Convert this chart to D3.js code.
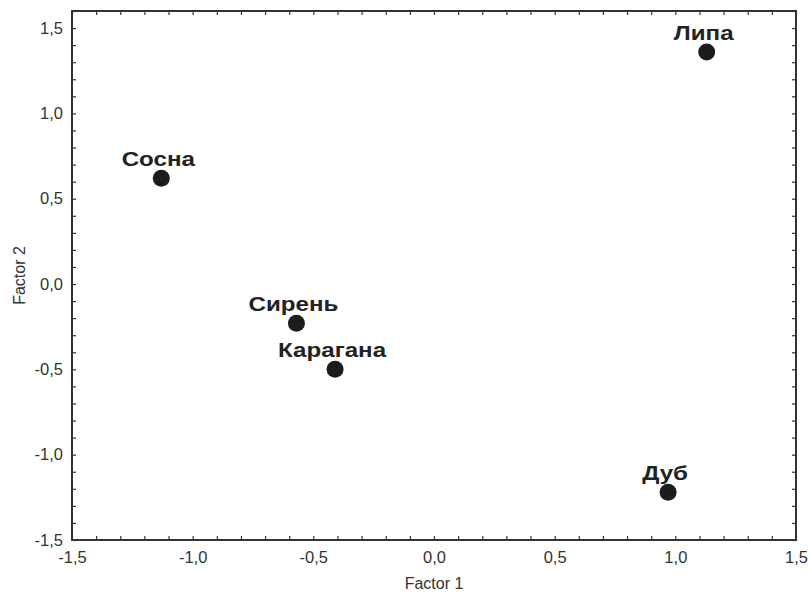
<!DOCTYPE html>
<html>
<head>
<meta charset="utf-8">
<script src="https://cdn.jsdelivr.net/npm/d3@7"></script>
<style>
  html, body { margin: 0; padding: 0; background: #fff; }
  svg { display: block; }
</style>
</head>
<body>
<div id="chart"></div>
<script>
const names = ["Липа", "Сосна", "Сирень", "Карагана", "Дуб"];
const factor1 = [1.13, -1.13, -0.57, -0.41, 0.97];
const factor2 = [1.36, 0.62, -0.23, -0.50, -1.22];
const xTicks = [-1.5, -1.0, -0.5, 0.0, 0.5, 1.0, 1.5];
const yTicks = [-1.5, -1.0, -0.5, 0.0, 0.5, 1.0, 1.5];
const xTitle = "Factor 1";
const yTitle = "Factor 2";

const W = 808, H = 594;
const m = { left: 72, right: 12, top: 11, bottom: 54 };
const iw = W - m.left - m.right, ih = H - m.top - m.bottom;
const FONT = "Liberation Sans, Arial, sans-serif";

const svg = d3.select("#chart").append("svg").attr("width", W).attr("height", H);
const g = svg.append("g").attr("transform", `translate(${m.left},${m.top})`);

const x = d3.scaleLinear().domain([-1.5, 1.5]).range([0, iw]);
const y = d3.scaleLinear().domain([-1.5, 1.6]).range([ih, 0]);

const fmt = d => d3.format(".1f")(d).replace(".", ",").replace("−", "-");
const minorX = d3.range(-15, 16).map(v => v / 10);
const minorY = d3.range(-15, 17).map(v => v / 10);
const tickColor = "#333";

function styleAxis(sel) {
  sel.select(".domain").remove();
  sel.selectAll(".tick line").attr("stroke", tickColor).attr("stroke-width", 1.2);
}
g.append("g").attr("transform", `translate(0,${ih})`)
  .call(d3.axisTop(x).tickValues(minorX).tickSize(4).tickFormat(""))
  .call(styleAxis);
g.append("g")
  .call(d3.axisBottom(x).tickValues(minorX).tickSize(4).tickFormat(""))
  .call(styleAxis);
g.append("g")
  .call(d3.axisRight(y).tickValues(minorY).tickSize(4).tickFormat(""))
  .call(styleAxis);
g.append("g").attr("transform", `translate(${iw},0)`)
  .call(d3.axisLeft(y).tickValues(minorY).tickSize(4).tickFormat(""))
  .call(styleAxis);

const xAxis = g.append("g").attr("transform", `translate(0,${ih})`)
  .call(d3.axisBottom(x).tickValues(xTicks).tickSize(0).tickPadding(11).tickFormat(fmt));
xAxis.select(".domain").remove();
xAxis.selectAll("text").attr("font-family", FONT)
  .attr("font-size", 16.5).attr("fill", "#333");

const yAxis = g.append("g")
  .call(d3.axisLeft(y).tickValues(yTicks).tickSize(0).tickPadding(9).tickFormat(fmt));
yAxis.select(".domain").remove();
yAxis.selectAll("text").attr("font-family", FONT)
  .attr("font-size", 16.5).attr("fill", "#333");

g.append("rect").attr("x", 0).attr("y", 0).attr("width", iw).attr("height", ih)
  .attr("fill", "none").attr("stroke", "#333").attr("stroke-width", 2);

svg.append("text").attr("x", m.left + iw / 2).attr("y", 589)
  .attr("text-anchor", "middle").attr("font-family", FONT)
  .attr("font-size", 16).attr("fill", "#333").text(xTitle);
svg.append("text").attr("transform", `translate(25,${m.top + ih / 2}) rotate(-90)`)
  .attr("text-anchor", "middle").attr("font-family", FONT)
  .attr("font-size", 16).attr("fill", "#333").text(yTitle);

const data = names.map((n, i) => ({ name: n, f1: factor1[i], f2: factor2[i] }));
const pts = g.selectAll(".pt").data(data).join("g").attr("class", "pt")
  .attr("transform", d => `translate(${x(d.f1)},${y(d.f2)})`);
pts.append("circle").attr("r", 8.5).attr("fill", "#1c1c1c");
pts.append("text").attr("transform", "translate(-3,-12) scale(1.15,1)")
  .attr("text-anchor", "middle")
  .attr("font-family", FONT)
  .attr("font-weight", "bold").attr("font-size", 21).attr("fill", "#222")
  .text(d => d.name);
</script>
</body>
</html>
